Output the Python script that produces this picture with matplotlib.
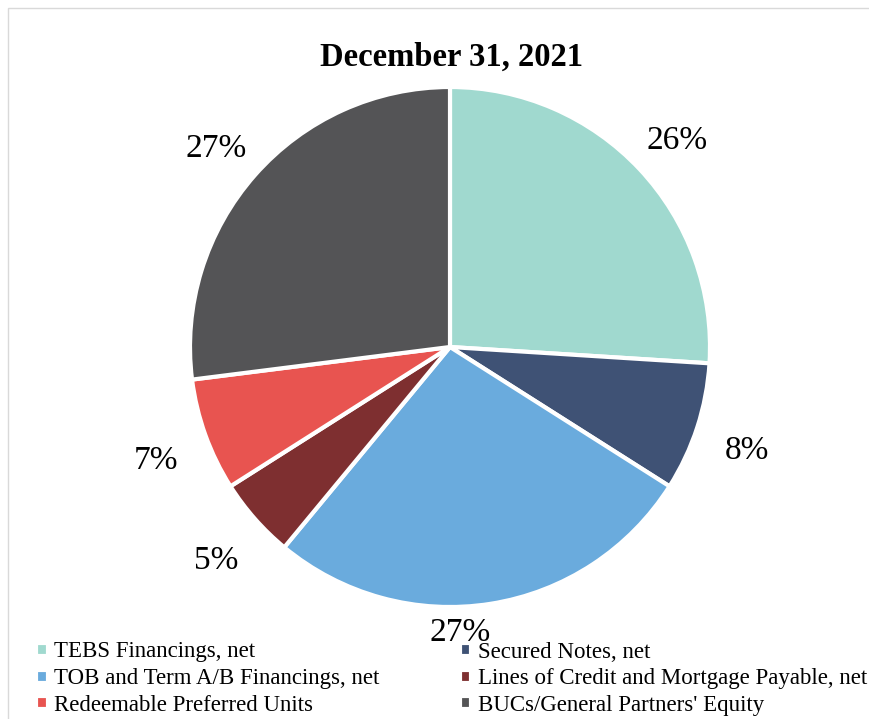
import numpy as np
import matplotlib.pyplot as plt
from matplotlib.patches import Rectangle

labels = ["TEBS Financings, net", "Secured Notes, net",
          "TOB and Term A/B Financings, net", "Lines of Credit and Mortgage Payable, net",
          "Redeemable Preferred Units", "BUCs/General Partners' Equity"]
values = [26, 8, 27, 5, 7, 27]
colors = ["#A0D9CF", "#3F5275", "#6AABDD", "#7E2F30", "#E85450", "#545456"]

plt.rcParams['font.family'] = ['Liberation Serif', 'DejaVu Serif']

fig = plt.figure(figsize=(8.69, 7.19), dpi=100)

# light frame around chart area
fig.patches.append(Rectangle((8 / 869, -0.1), 1.2, 1 - 8 / 719 + 0.1, transform=fig.transFigure,
                             fill=False, edgecolor="#D9D9D9", linewidth=1))

ax = fig.add_axes([(450 - 260) / 869, 1 - (347 + 260) / 719, 520 / 869, 520 / 719])
wedges, texts = ax.pie(values, colors=colors, startangle=90, counterclock=False,
                       wedgeprops=dict(edgecolor="white", linewidth=3))
ax.set_xlim(-1.0, 1.0)
ax.set_ylim(-1.0, 1.0)
ax.set_aspect('equal')

for i, (w, v) in enumerate(zip(wedges, values)):
    ang = np.deg2rad((w.theta1 + w.theta2) / 2)
    r = 1.2
    if i == 2:
        # bottom label pulled in, like excel does to dodge the legend
        ang = np.deg2rad(-88)
        r = 1.07
    ax.text(r * np.cos(ang), r * np.sin(ang) - 0.03, "{}%".format(v),
            ha='center', va='center', fontsize=24)

fig.text(452 / 869, 1 - 57 / 719, "December 31, 2021", ha='center', va='center',
         fontsize=23.5, fontweight='bold')

order = [0, 2, 4, 1, 3, 5]
fig.legend([wedges[i] for i in order], [labels[i] for i in order], ncol=2,
           loc='lower left', bbox_to_anchor=(20 / 869, -13 / 719), frameon=False,
           fontsize=16.5, handlelength=0.5, handleheight=0.5, handletextpad=0.3,
           columnspacing=3.5, labelspacing=0.25, borderpad=0.2)

fig.savefig("out.png", dpi=100)
